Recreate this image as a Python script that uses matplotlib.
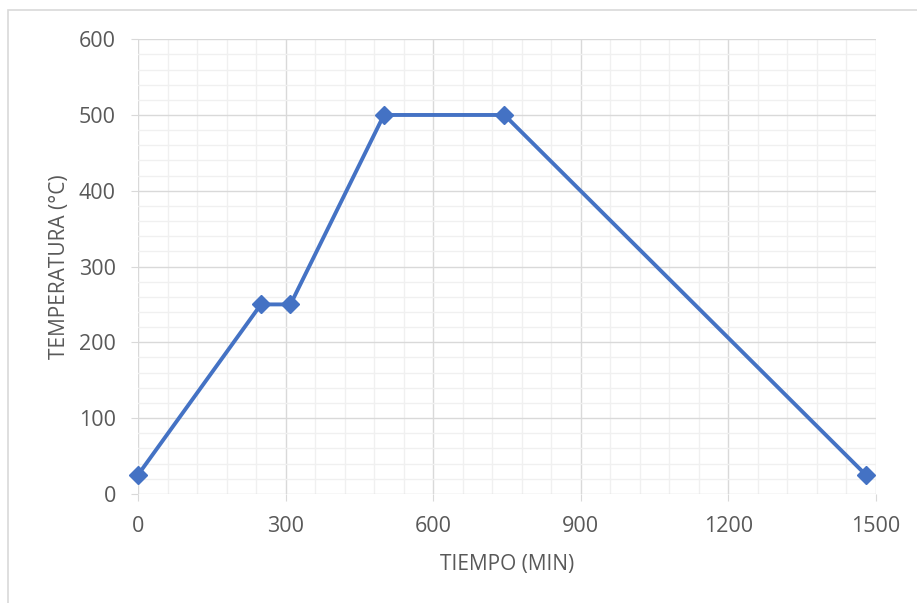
import matplotlib
matplotlib.use('agg')
import matplotlib.pyplot as plt
from matplotlib.patches import Rectangle
from matplotlib.ticker import MultipleLocator

# datos del tratamiento termico
tiempo = [0, 250, 310, 500, 745, 1480]
temperatura = [25, 250, 250, 500, 500, 25]

x_ticks = [0, 300, 600, 900, 1200, 1500]
y_ticks = [0, 100, 200, 300, 400, 500, 600]

txt_color = '#595959'
plt.rcParams['font.family'] = ['Open Sans', 'DejaVu Sans']

fig = plt.figure(figsize=(9.17, 6.03), dpi=100)
fig.patches.append(Rectangle((8 / 917, -0.1), 1.2, 1.1 - 10 / 603,
                             transform=fig.transFigure, fill=False,
                             edgecolor='#d9d9d9', linewidth=1.2))
ax = fig.add_axes([0.1505, 0.181, 0.8045, 0.754])

ax.plot(tiempo, temperatura, color='#4472C4', linewidth=2.8,
        marker='D', markersize=9.5, zorder=3, clip_on=False)

ax.set_xlim(0, 1500)
ax.set_ylim(0, 600)
ax.set_xticks(x_ticks)
ax.set_yticks(y_ticks)
ax.xaxis.set_minor_locator(MultipleLocator(60))
ax.yaxis.set_minor_locator(MultipleLocator(20))
ax.grid(which='major', color='#d9d9d9', linewidth=1.0)
ax.grid(which='minor', color='#f0f0f0', linewidth=1.0)
ax.set_axisbelow(True)
for s in ax.spines.values():
    s.set_visible(False)

ax.tick_params(which='major', length=5, color='#d9d9d9', labelsize=15.5,
               labelcolor=txt_color)
ax.tick_params(axis='x', pad=11)
ax.tick_params(axis='y', pad=11)
ax.tick_params(which='minor', length=0)

ax.set_xlabel('TIEMPO (MIN)', fontsize=15, color=txt_color, labelpad=12)
ax.set_ylabel('TEMPERATURA (°C)', fontsize=15, color=txt_color, labelpad=6)

plt.savefig('out.png', dpi=100)
plt.close()
